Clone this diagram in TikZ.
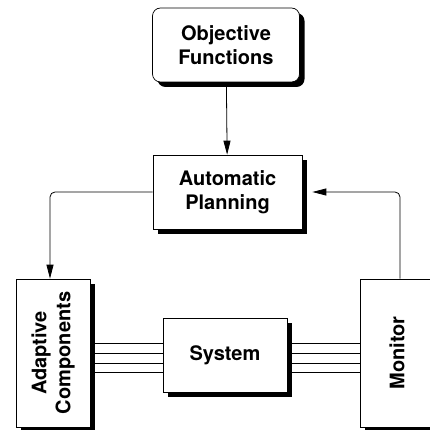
\documentclass[tikz,border=0pt]{standalone}
\usepackage{fontspec}
\setmainfont{TeX Gyre Heros}
\usetikzlibrary{arrows.meta}

\begin{document}
\begin{tikzpicture}[x=1pt,y=-1pt,
  blk/.style={draw,line width=0.7pt,fill=white,font=\fontsize{20}{24}\selectfont\bfseries,align=center,inner sep=0pt},
  shd/.style={fill=black},
  arr/.style={line width=0.8pt,rounded corners=5pt,-{Triangle[length=14pt,width=7pt]}}]
\useasboundingbox (0,0) rectangle (430,430);
\fill[shd,rounded corners=8pt] (157.5,13) rectangle (304.5,87);
\fill[shd] (158,160) rectangle (307,234);
\fill[shd] (168,323) rectangle (292,397);
\fill[shd] (21,284) rectangle (95,432);
\fill[shd] (365,284) rectangle (439,432);
\node[blk,rounded corners=8pt,minimum width=147pt,minimum height=74pt] (obj) at (226,45) {Objective\\Functions};
\node[blk,minimum width=149pt,minimum height=74pt] (plan) at (227.5,192) {Automatic\\Planning};
\node[blk,minimum width=124pt,minimum height=74pt] (sys) at (225,355) {System};
\node[blk,rotate=90,minimum width=148pt,minimum height=74pt] (adapt) at (53,353) {Adaptive\\Components};
\node[blk,rotate=90,minimum width=148pt,minimum height=74pt] (mon) at (397,353) {Monitor};
\draw[arr] (obj) -- (plan);
\draw[arr] (plan.west) -| ([xshift=-3pt]adapt.east);
\draw[arr] ([xshift=3pt]mon.east) |- ([xshift=10pt]plan.east);
\foreach \ly in {343,353,363,372} {
  \draw[line width=0.8pt] (adapt.south |- 0,\ly) -- (sys.west |- 0,\ly);
  \draw[line width=0.8pt] (sys.east |- 0,\ly) -- (mon.north |- 0,\ly);
}
\end{tikzpicture}
\end{document}
